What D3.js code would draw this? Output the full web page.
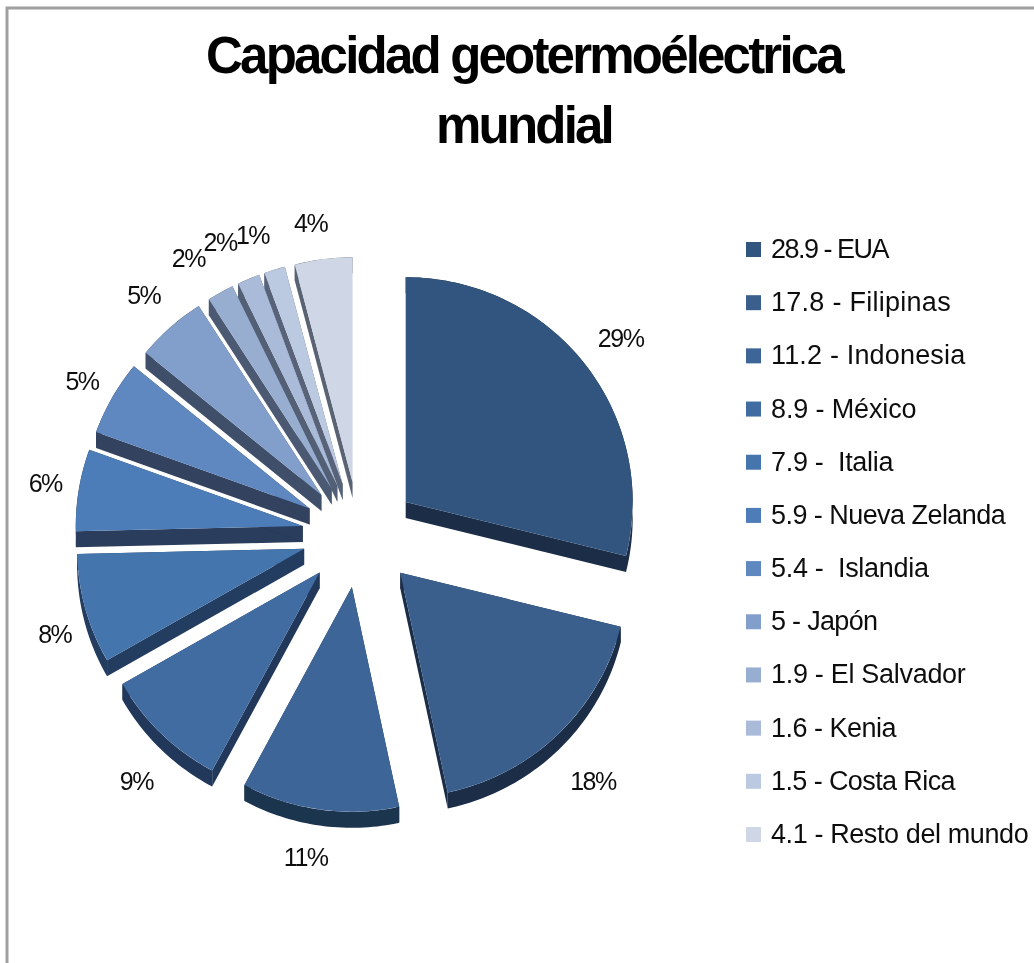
<!DOCTYPE html>
<html><head><meta charset="utf-8">
<script src="https://cdn.jsdelivr.net/npm/d3@7/dist/d3.min.js"></script>
<style>html,body{margin:0;padding:0;background:#fff}svg{display:block}text{font-family:"Liberation Sans",Arial,sans-serif;fill:#111}</style>
</head><body><svg id="c" width="1034" height="963"></svg>
<script>
const countries=["EUA","Filipinas","Indonesia","México","Italia","Nueva Zelanda","Islandia","Japón","El Salvador","Kenia","Costa Rica","Resto del mundo"];
const values=[28.9,17.8,11.2,8.9,7.9,5.9,5.4,5,1.9,1.6,1.5,4.1];
const valueLabels=["28.9 - ","17.8 - ","11.2 - ","8.9 - ","7.9 -  ","5.9 - ","5.4 -  ","5 - ","1.9 - ","1.6 - ","1.5 - ","4.1 - "];
const percentLabels=["29%","18%","11%","9%","8%","6%","5%","5%","2%","2%","1%","4%"];
const titleLines=["Capacidad geotermoélectrica","mundial"];

// styling and layout, separate from the data above
const topColors=["#32557f","#3a5f8d","#3d6598","#416ca2","#4574ad","#4d7db8","#6088c0","#819fca","#97aed0","#a9bbd9","#bccae1","#cfd7e7"];
const sideColors=["#1b2e47","#1b2e47","#1f3450","#21385a","#233c60","#293c5c","#31425f","#415069","#4c5a72","#525f75","#58637a","#5a6373"];
const legendTracking=[-1.5,0.27,0.17,-0.13,-0.3,-0.55,-0.3,-0.7,-0.3,-0.5,-0.6,-0.4];
const labelNudge=[[7,0],[9,10],[-9,0],[1,10],[5,5],[3,0],[2,4],[-2,-2],[-14,1],[-14,0],[-11,4],[-8,4]];

const svg=d3.select("#c");
svg.append("defs").append("filter").attr("id","soft").attr("x",0).attr("y",0).attr("width","100%").attr("height","100%")
  .append("feGaussianBlur").attr("stdDeviation",0.7);
const root=svg.append("g").attr("filter","url(#soft)");
root.append("rect").attr("width",1034).attr("height",963).attr("fill","#fff");
const W=1034,H=963,cx=360,cy=534.6,explodeX=58,explodeY=53,R=227,squash=0.99,depth=16;

root.append("path").attr("d",`M7 ${H} V8 H${W}`).attr("fill","none").attr("stroke","#a0a0a0").attr("stroke-width",3);

titleLines.forEach((t,i)=>root.append("text").attr("x",524).attr("y",73+i*69.5).attr("text-anchor","middle")
  .attr("font-size",51).attr("font-weight","bold").attr("letter-spacing",-2.8).style("fill","#000").text(t));

const arcs=d3.pie().sort(null).value(d=>d)(values);
const arc=d3.arc().innerRadius(0).outerRadius(R);
const slices=arcs.map((a,i)=>{
  const mid=(a.startAngle+a.endAngle)/2;
  return {a,i,mid,x:cx+explodeX*Math.sin(mid),y:cy-explodeY*Math.cos(mid)};
});
// Extruded walls of a wedge: the two radial faces and the outer rim, swept down by the depth.
function wallPaths(a){
  const n=Math.max(2,Math.ceil((a.endAngle-a.startAngle)/0.02));
  const rim=d3.range(n+1).map(k=>d3.pointRadial(a.startAngle+(a.endAngle-a.startAngle)*k/n,R));
  const drop=depth/squash;
  const down=([x,y])=>[x,y+drop];
  const poly=pts=>"M"+pts.join("L")+"Z";
  const first=rim[0],last=rim[n];
  return [
    poly([[0,0],first,down(first),down([0,0])]),
    poly([[0,0],last,down(last),down([0,0])]),
    poly([...rim,...rim.map(down).reverse()])
  ];
}
const order=[...slices.slice(6).reverse(),...slices.slice(0,6)];
order.forEach(s=>{
  const g=root.append("g").attr("transform",`translate(${s.x},${s.y}) scale(1,${squash})`);
  g.selectAll("path.wall").data(wallPaths(s.a)).join("path").attr("class","wall")
    .attr("d",d=>d).attr("fill",sideColors[s.i]);
  g.append("path").attr("d",arc(s.a)).attr("fill",topColors[s.i]);
});
slices.forEach(s=>{
  const lr=R+37, lower=-Math.cos(s.mid)>0;
  root.append("text").attr("x",s.x+lr*Math.sin(s.mid)+labelNudge[s.i][0])
    .attr("y",s.y-lr*Math.cos(s.mid)+(lower?18:8)+labelNudge[s.i][1])
    .attr("text-anchor","middle").attr("font-size",25).attr("letter-spacing",-1.5).text(percentLabels[s.i]);
});

const ly=d3.scalePoint().domain(d3.range(values.length)).range([249,834]);
countries.forEach((c,i)=>{
  root.append("rect").attr("x",746).attr("y",ly(i)-7).attr("width",15).attr("height",15).attr("fill",topColors[i]);
  root.append("text").attr("x",771).attr("y",ly(i)+9).attr("font-size",27).attr("letter-spacing",legendTracking[i])
    .style("white-space","pre").text(valueLabels[i]+c);
});
</script></body></html>
